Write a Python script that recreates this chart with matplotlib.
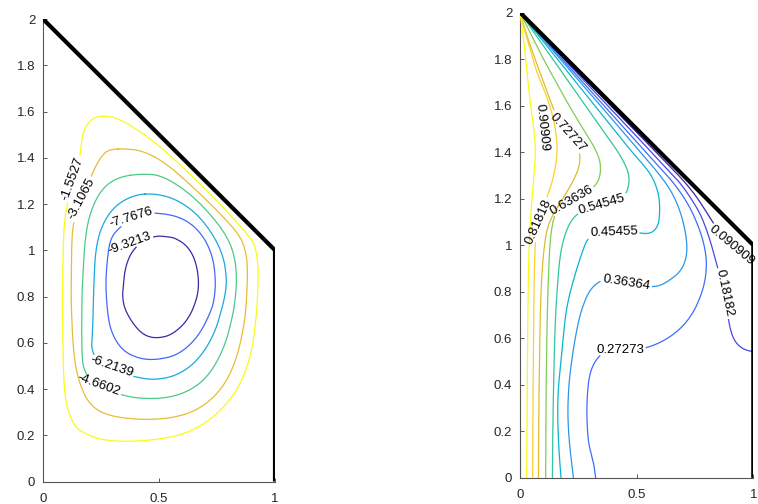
import numpy as np
import matplotlib
matplotlib.use("Agg")
import matplotlib.pyplot as plt
from matplotlib.colors import LinearSegmentedColormap

plt.rcParams['font.family'] = ['Liberation Sans', 'DejaVu Sans']

# ---------------- parula colormap anchors ----------------
parula_pos = [0/63, 4/63, 8/63, 12/63, 16/63, 20/63, 24/63, 28/63, 32/63,
              36/63, 40/63, 44/63, 48/63, 52/63, 56/63, 60/63, 63/63]
parula_rgb = [(0.2422, 0.1504, 0.6603), (0.2706, 0.2147, 0.8364), (0.2813, 0.3006, 0.9414),
              (0.2699, 0.3892, 0.9906), (0.1963, 0.4847, 0.9892), (0.1687, 0.5703, 0.9359),
              (0.1248, 0.6459, 0.8883), (0.0297, 0.7082, 0.8163), (0.0964, 0.7500, 0.7120),
              (0.2161, 0.7843, 0.5923), (0.3909, 0.8029, 0.4354), (0.6174, 0.7876, 0.2612),
              (0.8203, 0.7498, 0.1535), (0.9728, 0.7298, 0.2394), (0.9892, 0.8136, 0.1885),
              (0.9628, 0.9373, 0.1265), (0.9769, 0.9839, 0.0805)]
parula = LinearSegmentedColormap.from_list('parula', list(zip(parula_pos, parula_rgb)))

# ---------------- left panel: stream function contours ----------------
psi_levels = [-9.3213, -7.7676, -6.2139, -4.6602, -3.1065, -1.5527]
psi_labels = ['-9.3213', '-7.7676', '-6.2139', '-4.6602', '-3.1065', '-1.5527']

psi_x_1 = [0.49, 0.540, 0.569, 0.619, 0.655, 0.672, 0.667, 0.626, 0.555, 0.49, 0.44, 0.397,
           0.353, 0.342, 0.346, 0.352, 0.37, 0.40, 0.44, 0.49]
psi_y_1 = [1.063, 1.058, 1.053, 1.022, 0.964, 0.878, 0.798, 0.698, 0.633, 0.619, 0.63, 0.669,
           0.741, 0.80, 0.841, 0.91, 0.97, 1.015, 1.045, 1.063]
psi_x_2 = [0.47, 0.569, 0.641, 0.698, 0.734, 0.744, 0.740, 0.727, 0.670, 0.583, 0.483, 0.411,
           0.339, 0.289, 0.274, 0.270, 0.282, 0.296, 0.325, 0.38, 0.43, 0.47]
psi_y_2 = [1.163, 1.151, 1.115, 1.051, 0.964, 0.870, 0.80, 0.741, 0.626, 0.546, 0.525, 0.532,
           0.568, 0.654, 0.770, 0.878, 1.007, 1.058, 1.094, 1.135, 1.158, 1.163]
psi_x_3 = [0.483, 0.569, 0.655, 0.727, 0.777, 0.792, 0.787, 0.777, 0.741, 0.670, 0.583, 0.483,
           0.389, 0.34, 0.294, 0.255, 0.225, 0.208, 0.213, 0.217, 0.220, 0.227, 0.253, 0.310,
           0.397, 0.483]
psi_y_3 = [1.245, 1.223, 1.166, 1.079, 0.978, 0.878, 0.82, 0.770, 0.640, 0.525, 0.460, 0.438,
           0.453, 0.475, 0.497, 0.513, 0.535, 0.58, 0.626, 0.770, 0.878, 1.007, 1.108, 1.194,
           1.241, 1.245]
psi_x_4 = [0.425, 0.512, 0.626, 0.727, 0.799, 0.828, 0.835, 0.830, 0.820, 0.784, 0.713, 0.626,
           0.526, 0.411, 0.339, 0.29, 0.241, 0.205, 0.18, 0.167, 0.167, 0.171, 0.181, 0.203,
           0.253, 0.325, 0.425]
psi_y_4 = [1.331, 1.324, 1.252, 1.151, 1.051, 0.964, 0.878, 0.80, 0.727, 0.582, 0.453, 0.388,
           0.359, 0.359, 0.374, 0.395, 0.418, 0.44, 0.475, 0.53, 0.770, 0.878, 1.051, 1.166,
           1.267, 1.317, 1.331]
psi_x_5 = [0.346, 0.425, 0.526, 0.670, 0.799, 0.856, 0.878, 0.882, 0.878, 0.871, 0.835, 0.770,
           0.670, 0.555, 0.411, 0.267, 0.195, 0.152, 0.131, 0.121, 0.122, 0.123, 0.125, 0.132,
           0.145, 0.165, 0.19, 0.212, 0.235, 0.267, 0.30, 0.346]
psi_y_5 = [1.439, 1.432, 1.381, 1.252, 1.122, 1.051, 0.978, 0.90, 0.80, 0.698, 0.525, 0.395,
           0.309, 0.273, 0.266, 0.287, 0.338, 0.438, 0.554, 0.770, 0.88, 0.98, 1.06, 1.12,
           1.17, 1.222, 1.28, 1.33, 1.38, 1.425, 1.437, 1.439]
psi_x_6 = [0.267, 0.303, 0.368, 0.483, 0.626, 0.770, 0.885, 0.914, 0.925, 0.928, 0.926, 0.921,
           0.900, 0.842, 0.741, 0.626, 0.483, 0.339, 0.245, 0.195, 0.145, 0.116, 0.095, 0.0875,
           0.083, 0.0875, 0.095, 0.128, 0.159, 0.164, 0.174, 0.203, 0.235, 0.267]
psi_y_6 = [1.580, 1.576, 1.547, 1.468, 1.338, 1.194, 1.065, 1.022, 0.950, 0.914, 0.82, 0.727,
           0.554, 0.395, 0.280, 0.208, 0.179, 0.172, 0.182, 0.201, 0.228, 0.280, 0.36, 0.482,
           0.77, 1.050, 1.151, 1.31, 1.396, 1.454, 1.518, 1.562, 1.578, 1.580]

# ---------------- right panel: temperature contours ----------------
T_levels = [0.090909, 0.18182, 0.27273, 0.36364, 0.45455, 0.54545, 0.63636, 0.72727, 0.81818, 0.90909]
T_labels = ['0.090909', '0.18182', '0.27273', '0.36364', '0.45455', '0.54545', '0.63636',
            '0.72727', '0.81818', '0.90909']

T_x_1 = [0.0, 0.0485, 0.097, 0.194, 0.291, 0.388, 0.485, 0.582, 0.636, 0.68, 0.72, 0.755, 0.785,
         0.81, 0.835, 0.87, 0.905, 0.94, 0.96, 0.975, 0.99, 1.0]
T_y_1 = [2.0, 1.95, 1.9, 1.8, 1.7, 1.6, 1.5, 1.4, 1.345, 1.30, 1.255, 1.21, 1.165, 1.125, 1.085,
         1.04, 1.0, 0.965, 0.945, 0.93, 0.922, 0.92]
T_x_2 = [0.0, 0.047, 0.094, 0.188, 0.282, 0.376, 0.47, 0.563, 0.614, 0.655, 0.68, 0.71, 0.74,
         0.77, 0.795, 0.815, 0.832, 0.848, 0.862, 0.878, 0.886, 0.892, 0.90, 0.912, 0.93, 0.955,
         0.98, 1.0]
T_y_2 = [2.0, 1.95, 1.9, 1.8, 1.7, 1.6, 1.5, 1.4, 1.345, 1.30, 1.275, 1.235, 1.19, 1.14, 1.08,
         1.02, 0.96, 0.90, 0.85, 0.79, 0.74, 0.69, 0.645, 0.605, 0.575, 0.555, 0.546, 0.543]
T_x_3 = [0.0, 0.045, 0.09, 0.18, 0.27, 0.36, 0.45, 0.54, 0.59, 0.63, 0.66, 0.70, 0.735, 0.765,
         0.785, 0.797, 0.80, 0.79, 0.77, 0.745, 0.71, 0.664, 0.60, 0.53, 0.48, 0.429, 0.37, 0.34,
         0.315, 0.298, 0.29, 0.286, 0.288, 0.293, 0.303, 0.314, 0.32, 0.324]
T_y_3 = [2.0, 1.95, 1.9, 1.8, 1.7, 1.6, 1.5, 1.4, 1.345, 1.30, 1.265, 1.21, 1.15, 1.08, 1.02,
         0.96, 0.9, 0.83, 0.77, 0.715, 0.665, 0.62, 0.58, 0.555, 0.548, 0.548, 0.544, 0.525,
         0.49, 0.442, 0.38, 0.30, 0.22, 0.156, 0.11, 0.07, 0.035, 0.0]
T_x_4 = [0.0, 0.043, 0.086, 0.172, 0.258, 0.345, 0.43, 0.516, 0.564, 0.60, 0.63, 0.66, 0.685,
         0.705, 0.717, 0.712, 0.69, 0.65, 0.60, 0.55, 0.457, 0.39, 0.35, 0.315, 0.29, 0.272,
         0.257, 0.24, 0.225, 0.212, 0.206, 0.205, 0.208, 0.214, 0.222, 0.229]
T_y_4 = [2.0, 1.95, 1.9, 1.8, 1.7, 1.6, 1.5, 1.4, 1.345, 1.30, 1.26, 1.21, 1.15, 1.08, 1.0,
         0.94, 0.89, 0.855, 0.825, 0.82, 0.84, 0.853, 0.85, 0.825, 0.79, 0.745, 0.70, 0.62,
         0.53, 0.43, 0.34, 0.27, 0.2, 0.127, 0.06, 0.0]
T_x_5 = [0.0, 0.04, 0.08, 0.16, 0.24, 0.32, 0.40, 0.48, 0.53, 0.57, 0.595, 0.60, 0.593, 0.557,
         0.50, 0.403, 0.33, 0.29, 0.27, 0.25, 0.232, 0.21, 0.195, 0.185, 0.175, 0.165, 0.161,
         0.163, 0.168, 0.176]
T_y_5 = [2.0, 1.95, 1.9, 1.8, 1.7, 1.6, 1.5, 1.4, 1.345, 1.29, 1.22, 1.15, 1.08, 1.047, 1.055,
         1.054, 1.05, 1.03, 0.98, 0.92, 0.86, 0.78, 0.70, 0.60, 0.5, 0.4, 0.3, 0.2, 0.1, 0.0]
T_x_6 = [0.0, 0.035, 0.07, 0.14, 0.21, 0.28, 0.35, 0.415, 0.455, 0.47, 0.462, 0.44, 0.40, 0.351,
         0.30, 0.25, 0.215, 0.19, 0.172, 0.162, 0.152, 0.146, 0.142, 0.140, 0.139]
T_y_6 = [2.0, 1.95, 1.9, 1.8, 1.7, 1.6, 1.5, 1.41, 1.34, 1.29, 1.235, 1.205, 1.19, 1.176, 1.16,
         1.14, 1.10, 1.04, 0.96, 0.85, 0.7, 0.5, 0.3, 0.15, 0.0]
T_x_7 = [0.0, 0.025, 0.05, 0.10, 0.155, 0.21, 0.27, 0.32, 0.345, 0.345, 0.325, 0.27, 0.222,
         0.175, 0.148, 0.135, 0.128, 0.123, 0.118, 0.115, 0.112, 0.111, 0.110]
T_y_7 = [2.0, 1.95, 1.9, 1.8, 1.7, 1.6, 1.5, 1.42, 1.36, 1.30, 1.255, 1.22, 1.194, 1.165, 1.13,
         1.07, 1.0, 0.9, 0.75, 0.6, 0.4, 0.2, 0.0]
T_x_8 = [0.0, 0.02, 0.05, 0.09, 0.13, 0.16, 0.205, 0.24, 0.258, 0.255, 0.235, 0.205, 0.17, 0.14,
         0.115, 0.102, 0.094, 0.088, 0.085, 0.082, 0.080, 0.079]
T_y_8 = [2.0, 1.93, 1.84, 1.73, 1.62, 1.545, 1.485, 1.44, 1.39, 1.34, 1.29, 1.235, 1.18, 1.13,
         1.07, 0.98, 0.88, 0.75, 0.6, 0.4, 0.2, 0.0]
T_x_9 = [0.0, 0.015, 0.034, 0.070, 0.113, 0.140, 0.155, 0.160, 0.155, 0.138, 0.11, 0.085, 0.07,
         0.063, 0.060, 0.058, 0.056, 0.055, 0.054]
T_y_9 = [2.0, 1.94, 1.875, 1.746, 1.645, 1.56, 1.48, 1.416, 1.35, 1.27, 1.19, 1.12, 1.06, 0.97,
         0.8, 0.6, 0.4, 0.2, 0.0]
T_x_10 = [0.0, 0.010, 0.020, 0.041, 0.060, 0.068, 0.058, 0.046, 0.038, 0.034, 0.032, 0.030, 0.0286]
T_y_10 = [2.0, 1.93, 1.846, 1.631, 1.50, 1.40, 1.28, 1.13, 0.98, 0.75, 0.5, 0.25, 0.0]

# domain boundary (thick line)
wall_x = [0.0, 1.0, 1.0]
wall_y = [2.0, 1.0, 0.0]

x_ticks = [0, 0.5, 1]
x_ticklabels = ['0', '0.5', '1']
y_ticks = [0, 0.2, 0.4, 0.6, 0.8, 1.0, 1.2, 1.4, 1.6, 1.8, 2.0]
y_ticklabels = ['0', '0.2', '0.4', '0.6', '0.8', '1', '1.2', '1.4', '1.6', '1.8', '2']

# label placements (position on the line, rotation in degrees)
psi_label_place = [((0.375, 1.029), 20), ((0.378, 1.14), 17), ((0.294, 0.497), -19),
                   ((0.241, 0.418), -20), ((0.165, 1.222), 62), ((0.128, 1.31), 70)]
T_label_place = [((0.905, 1.0), -40), ((0.878, 0.795), -78), ((0.429, 0.548), 0),
                 ((0.457, 0.840), -9), ((0.403, 1.054), 2), ((0.351, 1.176), 16),
                 ((0.222, 1.194), 30), ((0.205, 1.485), -48), ((0.08, 1.10), 66),
                 ((0.095, 1.505), -84)]

psi_lines = [(psi_x_1, psi_y_1), (psi_x_2, psi_y_2), (psi_x_3, psi_y_3),
             (psi_x_4, psi_y_4), (psi_x_5, psi_y_5), (psi_x_6, psi_y_6)]
T_lines = [(T_x_1, T_y_1), (T_x_2, T_y_2), (T_x_3, T_y_3), (T_x_4, T_y_4), (T_x_5, T_y_5),
           (T_x_6, T_y_6), (T_x_7, T_y_7), (T_x_8, T_y_8), (T_x_9, T_y_9), (T_x_10, T_y_10)]

W, H = 758, 504
fig = plt.figure(figsize=(W / 100, H / 100), dpi=100)
axL = fig.add_axes([43 / W, 22.5 / H, 232 / W, 462.5 / H])
axR = fig.add_axes([520 / W, 26.1 / H, 233.3 / W, 465.4 / H])

AX_COL = '#262626'
LFS = 9.5


def style(ax):
    ax.set_xlim(0, 1)
    ax.set_ylim(0, 2)
    for s in ('top', 'right'):
        ax.spines[s].set_visible(False)
    for s in ('left', 'bottom'):
        ax.spines[s].set_color('#555555')
        ax.spines[s].set_linewidth(0.8)
    ax.set_xticks(x_ticks)
    ax.set_xticklabels(x_ticklabels)
    ax.set_yticks(y_ticks)
    ax.set_yticklabels(y_ticklabels)
    ax.tick_params(direction='in', length=3, width=0.7, color='#555555',
                   labelsize=9.5, labelcolor=AX_COL)
    ax.tick_params(axis='x', pad=8)
    ax.tick_params(axis='y', pad=5.5)


style(axL)
style(axR)
renderer = fig.canvas.get_renderer()


def smooth_render(pts, closed):
    """Quadratic B-spline rendering of a polyline (display coords)."""
    if closed:
        P = pts[:-1]
        n = len(P)
        out = []
        s = np.linspace(0, 1, 12, endpoint=False)[:, None]
        for i in range(n):
            p0, p1, p2 = P[i - 1], P[i], P[(i + 1) % n]
            m0, m1 = (p0 + p1) / 2, (p1 + p2) / 2
            out.append((1 - s) ** 2 * m0 + 2 * (1 - s) * s * p1 + s ** 2 * m1)
        out = np.vstack(out)
        return np.vstack([out, out[:1]])
    P = pts
    out = [P[:1]]
    s = np.linspace(0, 1, 12)[1:, None]
    out.append(((P[0] + P[1]) / 2)[None, :])
    for i in range(1, len(P) - 1):
        m0, m1 = (P[i - 1] + P[i]) / 2, (P[i] + P[i + 1]) / 2
        out.append((1 - s) ** 2 * m0 + 2 * (1 - s) * s * P[i] + s ** 2 * m1)
    out.append(P[-1:])
    return np.vstack(out)


def densify(pts, step=0.5):
    out = [pts[0]]
    for a, b in zip(pts[:-1], pts[1:]):
        n = max(int(np.hypot(*(b - a)) / step), 1)
        for k in range(1, n + 1):
            out.append(a + (b - a) * k / n)
    return np.array(out)


def draw_line(ax, xs, ys, color, text, place, closed):
    (lx, ly), rot = place
    disp = ax.transData.transform(np.column_stack([xs, ys]))
    disp = densify(smooth_render(disp, closed))
    t = ax.text(lx, ly, text, rotation=rot, ha='center', va='center',
                rotation_mode='anchor', fontsize=LFS, color='black', zorder=5)
    w, h, d = renderer.get_text_width_height_descent(text, t.get_fontproperties(), ismath=False)
    c = ax.transData.transform((lx, ly))
    th = np.deg2rad(rot)
    rel = disp - c
    u = rel[:, 0] * np.cos(th) + rel[:, 1] * np.sin(th)
    v = -rel[:, 0] * np.sin(th) + rel[:, 1] * np.cos(th)
    mask = (np.abs(u) < w / 2 + 2) & (np.abs(v) < h / 2 + 1)
    disp[mask] = np.nan
    data = ax.transData.inverted().transform(disp)
    ax.plot(data[:, 0], data[:, 1], color=color, lw=0.9, zorder=3)


for lev_i, ((xs, ys), lab, place) in enumerate(zip(psi_lines, psi_labels, psi_label_place)):
    col = parula(lev_i / (len(psi_levels) - 1))
    draw_line(axL, xs, ys, col, lab, place, True)

for lev_i, ((xs, ys), lab, place) in enumerate(zip(T_lines, T_labels, T_label_place)):
    col = parula(lev_i / (len(T_levels) - 1))
    draw_line(axR, xs, ys, col, lab, place, False)

for ax in (axL, axR):
    ax.plot(wall_x, wall_y, color='black', lw=3.0, zorder=6, solid_capstyle='butt')

fig.savefig('out.png', dpi=100)
